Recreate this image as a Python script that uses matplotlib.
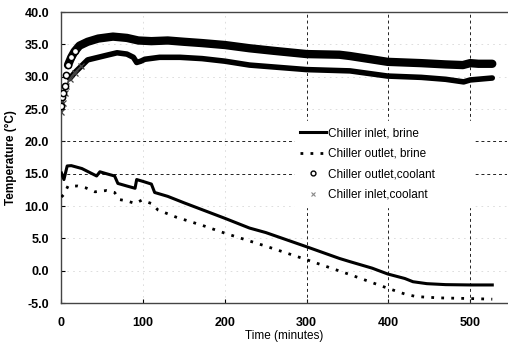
import matplotlib.pyplot as plt
from matplotlib.lines import Line2D

plt.rcParams['font.family'] = ['Liberation Sans', 'DejaVu Sans']

# Chiller inlet, brine
brine_in_t = [0, 3, 7, 12, 25, 43, 47, 55, 65, 69, 80, 90, 92, 100, 110, 114,
              130, 150, 175, 200, 230, 250, 300, 340, 353, 380, 399, 420, 430,
              447, 470, 500, 527]
brine_in = [15.1, 14.1, 16.2, 16.25, 15.8, 14.65, 15.3, 15.0, 14.65, 13.5, 13.1,
            12.75, 14.1, 13.8, 13.4, 12.1, 11.5, 10.5, 9.3, 8.1, 6.6, 5.9, 3.7,
            1.9, 1.4, 0.4, -0.5, -1.2, -1.7, -2.0, -2.15, -2.2, -2.2]

# Chiller outlet, brine
brine_out_t = [0, 3, 8, 20, 30, 41, 55, 65, 71, 80, 90, 98, 110, 118, 140, 175,
               200, 250, 300, 353, 399, 420, 434, 462, 500, 527]
brine_out = [11.4, 11.8, 13.1, 13.1, 12.8, 12.2, 12.4, 12.1, 11.0, 10.8, 10.4,
             10.9, 10.4, 9.4, 8.3, 6.9, 5.8, 3.8, 1.7, -0.6, -2.7, -3.6, -4.0,
             -4.2, -4.3, -4.4]

# Chiller outlet, coolant
cool_out_t = [0, 1, 2, 4, 6, 8, 12, 16, 22, 32, 45, 63, 80, 94, 110, 130, 150,
              172, 200, 230, 260, 300, 340, 353, 399, 440, 470, 491, 500, 510, 527]
cool_out = [25.4, 26.8, 27.5, 28.5, 30.3, 31.8, 33.0, 33.9, 34.8, 35.4, 35.9,
            36.2, 36.0, 35.6, 35.5, 35.6, 35.4, 35.2, 34.9, 34.4, 34.0, 33.5,
            33.4, 33.2, 32.3, 32.1, 31.9, 31.8, 32.1, 32.0, 32.0]

# Chiller inlet, coolant
cool_in_t = [0, 2, 4, 6, 10, 16, 24, 32, 45, 58, 68, 80, 88, 92, 97, 102, 120,
             145, 172, 200, 230, 260, 300, 353, 399, 440, 470, 492, 500, 527]
cool_in = [24.5, 26.0, 27.5, 28.5, 29.7, 30.6, 31.6, 32.6, 33.0, 33.4, 33.7,
           33.5, 33.0, 32.2, 32.4, 32.7, 33.0, 33.0, 32.8, 32.4, 31.8, 31.5,
           31.1, 30.9, 30.1, 29.9, 29.6, 29.2, 29.5, 29.8]

labels = ["Chiller inlet, brine", "Chiller outlet, brine",
          "Chiller outlet,coolant", "Chiller inlet,coolant"]

fig = plt.figure(figsize=(5.08, 3.44), dpi=100)
ax = fig.add_axes([0.121, 0.119, 0.877, 0.846])

# grid: faint everywhere, darker dashes at a few lines
ax.set_axisbelow(True)
ax.grid(True, color='#d8d8d8', ls=(0, (2, 5)), lw=0.6)
for yv in [15, 20]:
    ax.axhline(yv, color='#222222', ls=(0, (3, 3)), lw=0.7, zorder=1)
for xv in [300, 400, 500]:
    ax.axvline(xv, color='#222222', ls=(0, (3, 3)), lw=0.7, zorder=1)

# coolant bands
n0 = 5
ax.plot(cool_out_t[n0:], cool_out[n0:], color='k', lw=6, solid_capstyle='round', zorder=3)
ax.plot(cool_out_t[:n0 + 3], cool_out[:n0 + 3], ls='none', marker='o', ms=4.5,
        mfc='white', mec='k', mew=1.1, zorder=4)
ax.plot(cool_in_t[4:], cool_in[4:], color='k', lw=4, solid_capstyle='round', zorder=3)
ax.plot(cool_in_t[:7], cool_in[:7], color='#444444', lw=1.2, marker='x', ms=4,
        mew=0.9, zorder=3)

# brine lines
ax.plot(brine_in_t, brine_in, color='k', lw=2.2, zorder=3)
ax.plot(brine_out_t, brine_out, color='k', lw=2.0, ls=(0, (1, 2.6)), zorder=3)

ax.set_xlim(0, 545)
ax.set_ylim(-5, 40)
ax.set_xticks([0, 100, 200, 300, 400, 500])
ax.set_yticks(range(-5, 41, 5))
ax.set_yticklabels([f"{v:.1f}" for v in range(-5, 41, 5)])
ax.tick_params(axis='both', direction='in', length=3, width=0.8, labelsize=9)
ax.tick_params(axis='y', pad=9)
ax.tick_params(axis='x', pad=10)
for lab in ax.get_xticklabels() + ax.get_yticklabels():
    lab.set_fontweight('bold')

ax.spines['right'].set_visible(False)
for s in ['left', 'bottom', 'top']:
    ax.spines[s].set_color('#444444')
    ax.spines[s].set_linewidth(1.0)

ax.set_xlabel("Time (minutes)", fontsize=8.5, labelpad=1)
ax.set_ylabel("Temperature (\u00b0C)", fontsize=8.5, fontweight='bold', labelpad=5)

handles = [
    Line2D([], [], color='k', lw=2.2),
    Line2D([], [], color='k', lw=2.0, ls=(0, (1, 2.6))),
    Line2D([], [], ls='none', marker='o', ms=3.5, mfc='white', mec='k', mew=1),
    Line2D([], [], ls='none', marker='x', ms=3, color='#888888', mew=0.8),
]
# legend box stretched to the right so it covers the 500 grid line like the original
leg = ax.legend(handles, labels, loc='upper left',
                bbox_to_anchor=(0.51, 0.30, 0.43, 0.345), mode='expand',
                fontsize=8.5, frameon=True, fancybox=False, edgecolor='white',
                framealpha=1, labelspacing=0.72, handlelength=2.2,
                handletextpad=0.15, borderpad=0.5)
leg.set_zorder(5)

fig.savefig("out.png", dpi=100)
